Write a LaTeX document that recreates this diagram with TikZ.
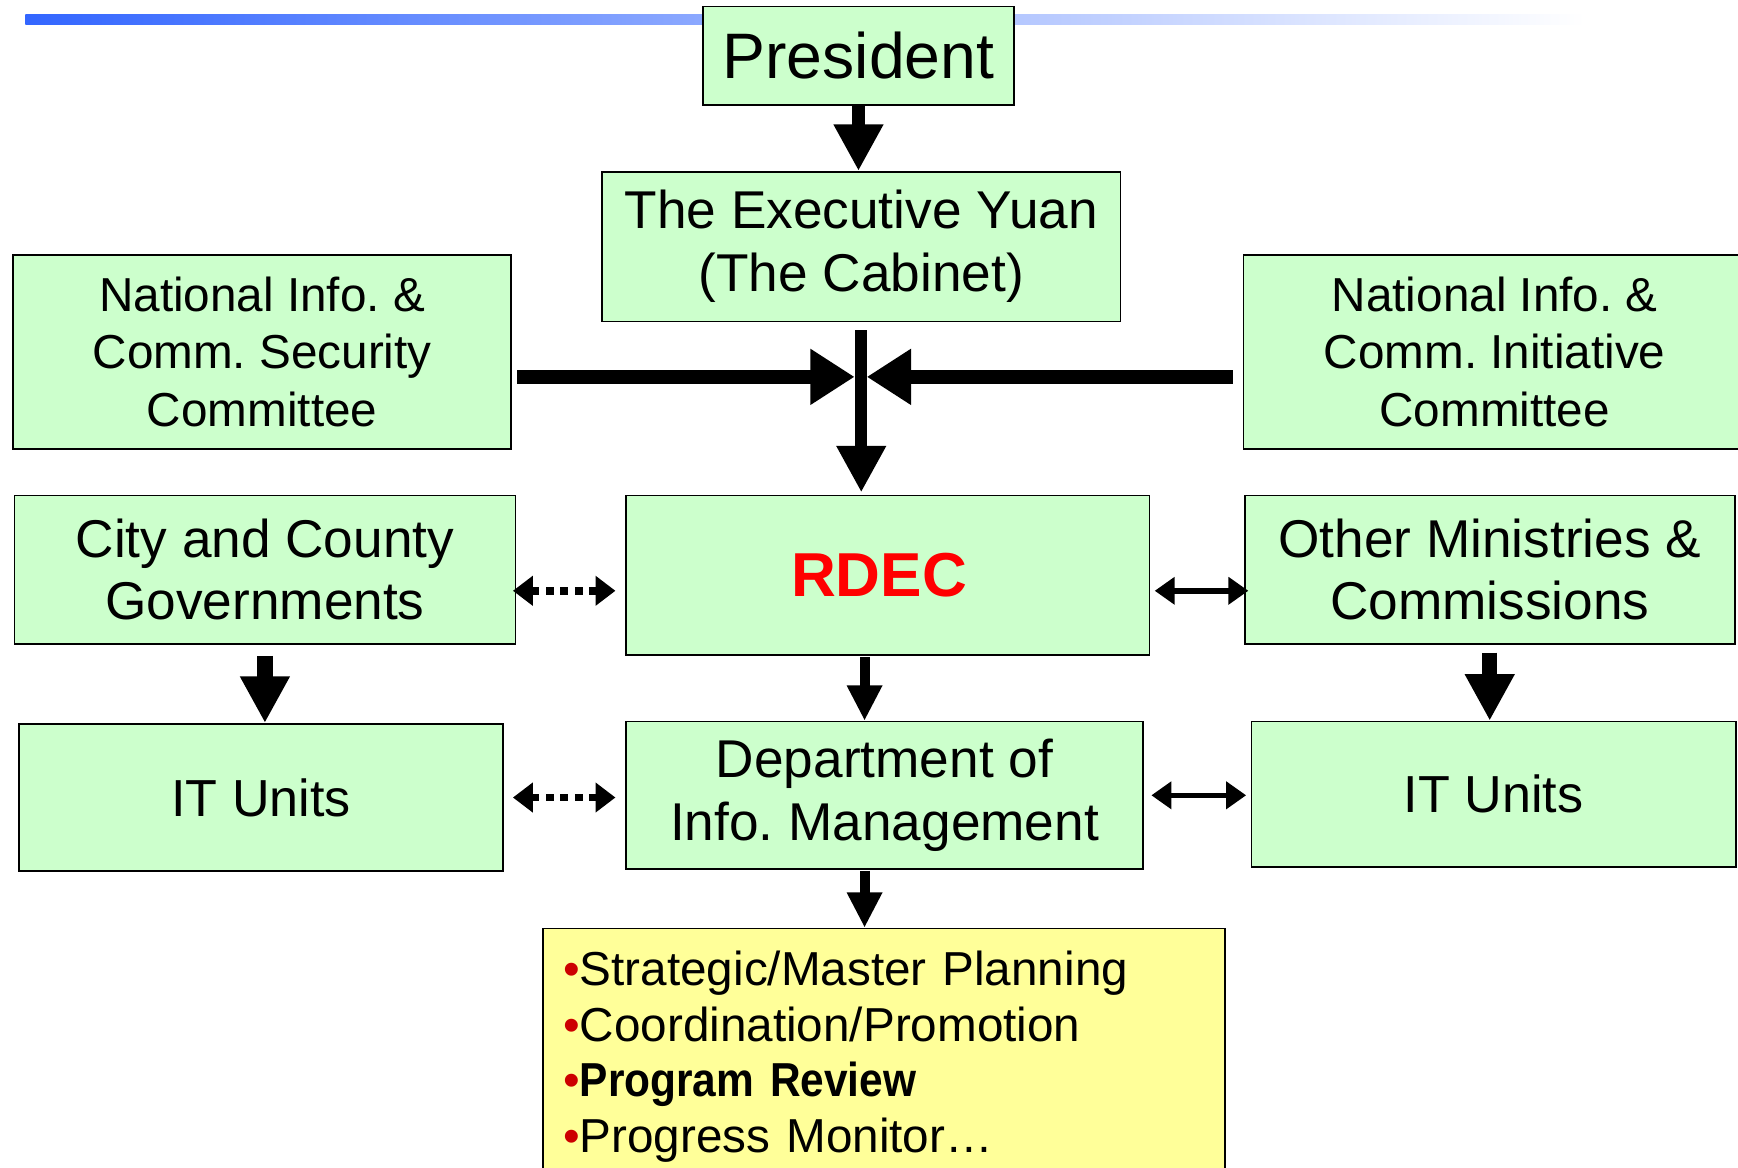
\documentclass[tikz,border=0pt]{standalone}
\usepackage{fontspec}
\setmainfont{Liberation Sans}
\newfontfamily\condsans[FakeStretch=0.89]{Liberation Sans}
\usetikzlibrary{arrows.meta, positioning}

\definecolor{boxgreen}{HTML}{CCFFCC}
\definecolor{listyellow}{HTML}{FFFF99}
\definecolor{barblue}{HTML}{3366FF}
\definecolor{bulletred}{HTML}{CC0000}
\definecolor{rdecred}{HTML}{FF0000}
\newcommand{\bul}{{\color{bulletred}•}}
\frenchspacing

\tikzset{
  orgbox/.style={draw, rectangle, line width=1.5pt, fill=boxgreen, align=center, inner sep=0pt},
  bigarrow/.style={line width=12pt, -{Triangle[length=42pt, width=42pt]}},
  midarrow/.style={line width=9pt, -{Triangle[length=32pt, width=30pt]}},
  dotarrow/.style={line width=7pt, dash pattern=on 7pt off 6pt, {Triangle[length=18pt, width=26pt]}-{Triangle[length=18pt, width=26pt]}},
  linkarrow/.style={line width=5pt, {Triangle[length=18pt, width=24pt]}-{Triangle[length=18pt, width=24pt]}}
}

\begin{document}
\begin{tikzpicture}[x=1pt, y=-1pt]
        \useasboundingbox (0,0) rectangle (1568,1053);
        \clip (0,0) rectangle (1568,1053);
        % title bar
        \shade[left color=barblue, right color=white] (23,13) rectangle (1430,22);

        % top of the chart
        \node[orgbox, minimum width=281pt, minimum height=89pt, font=\fontsize{58}{68}\selectfont] (pres) at (774.5,50.5) {President};
        \node[orgbox, minimum width=468pt, minimum height=135pt, font=\fontsize{48}{57}\selectfont] (exec) at (777,222.5) {The Executive Yuan\\(The Cabinet)};
        \node[orgbox, minimum width=449pt, minimum height=175pt, font=\fontsize{43}{52}\selectfont] (nics) at (236.5,317.5) {National Info. \&\\Comm. Security\\Committee};
        \node[orgbox, minimum width=453pt, minimum height=175pt, font=\fontsize{43}{52}\selectfont] (nici) at (1348.5,317.5) {National Info. \&\\Comm. Initiative\\Committee};

        % middle row
        \node[orgbox, minimum width=452pt, minimum height=134pt, font=\fontsize{48}{56}\selectfont] (city) at (239,514) {City and County\\Governments};
        \node[orgbox, minimum width=472pt, minimum height=144pt, font=\fontsize{56}{66}\selectfont\bfseries, text=rdecred] (rdec) at (801,519) {RDEC\hspace*{16pt}};
        \node[orgbox, minimum width=442pt, minimum height=134pt, font=\fontsize{48}{56}\selectfont] (other) at (1344,514) {Other Ministries \&\\Commissions};

        % lower row
        \node[orgbox, minimum width=437pt, minimum height=133pt, font=\fontsize{47}{56}\selectfont] (itl) at (235.5,719.5) {IT Units};
        \node[orgbox, minimum width=466pt, minimum height=133pt, font=\fontsize{48}{57}\selectfont] (dept) at (798,717.5) {Department of\\Info. Management};
        \node[orgbox, minimum width=437pt, minimum height=131pt, font=\fontsize{47}{56}\selectfont] (itr) at (1347.5,716.5) {IT Units};

        % task list
        \node[draw, rectangle, line width=1.5pt, fill=listyellow, anchor=north, inner xsep=18pt, inner ysep=20pt,
              text width=579pt, align=left, font=\fontsize{43}{50.3}\selectfont] (list) at (797.5,837)
              {\bul Strategic/Master Planning\\\bul Coordination/Promotion\\\bul{\condsans\bfseries Program Review}\\\bul Progress Monitor…};

        \coordinate (hub) at (777,340);

        \draw[bigarrow] (pres.south) -- (pres.south |- exec.north);
        \draw[line width=13pt, -{Triangle[length=40pt, width=48pt]}, shorten <=5pt, shorten >=6pt] (hub -| nics.east) -- (hub);
        \draw[line width=13pt, -{Triangle[length=40pt, width=48pt]}, shorten <=9pt, shorten >=5pt] (hub -| nici.west) -- (hub);
        \draw[bigarrow, line width=11pt, shorten <=7pt, shorten >=2pt] (hub |- exec.south) -- (hub |- rdec.north);
        \draw[bigarrow, line width=14pt, shorten <=10pt] (city.south) -- (city.south |- itl.north);
        \draw[bigarrow, line width=14pt, shorten <=7pt] (other.south) -- (other.south |- itr.north);
        \draw[midarrow, shorten <=1pt] ([xshift=3pt]hub |- rdec.south) -- ([xshift=3pt]hub |- dept.north);
        \draw[midarrow, shorten <=1pt] ([xshift=3pt]hub |- dept.south) -- ([xshift=3pt]hub |- list.north);

        \draw[dotarrow, shorten <=-3pt, shorten >=9pt] ([yshift=-19pt]city.east) -- ([yshift=-19pt]city.east -| rdec.west);
        \draw[dotarrow, shorten <=8pt, shorten >=9pt] (itl.east) -- (itl.east -| dept.west);
        \draw[linkarrow, shorten <=4pt, shorten >=-4pt] ([yshift=-14pt]rdec.east) -- ([yshift=-14pt]rdec.east -| other.west);
        \draw[linkarrow, shorten <=7pt, shorten >=4pt] (dept.east) -- (dept.east -| itr.west);
    \end{tikzpicture}
\end{document}
